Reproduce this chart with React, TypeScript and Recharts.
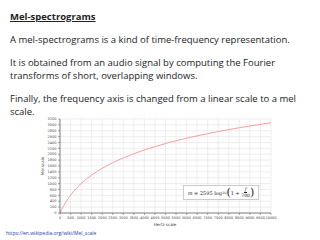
import React from 'react';
import { LineChart, Line, XAxis, YAxis, CartesianGrid } from 'recharts';

const hertz = [0, 100, 250, 500, 1000, 1500, 2000, 2500, 3000, 3500, 4000, 4500, 5000, 5500, 6000, 6500, 7000, 7500, 8000, 8500, 9000, 9500, 10000];
const mel = [0, 150, 344, 607, 1000, 1291, 1521, 1713, 1876, 2019, 2146, 2260, 2363, 2458, 2546, 2627, 2702, 2773, 2840, 2903, 2963, 3019, 3073];
const xTicks = [0, 500, 1000, 1500, 2000, 2500, 3000, 3500, 4000, 4500, 5000, 5500, 6000, 6500, 7000, 7500, 8000, 8500, 9000, 9500, 10000];
const yTicks = [0, 200, 400, 600, 800, 1000, 1200, 1400, 1600, 1800, 2000, 2200, 2400, 2600, 2800, 3000, 3200];

const data = hertz.map((h, i) => ({ hz: h, mel: mel[i] }));

const textFont = '"Open Sans", sans-serif';

export default function App() {
  return (
    <div style={{ position: 'absolute', left: 0, top: 0, width: 320, height: 240, background: '#fff', overflow: 'hidden', fontFamily: textFont, color: '#222' }}>
      <div style={{ position: 'absolute', left: 40, top: 112, width: 250, height: 118 }}>
        <LineChart width={250} height={118} data={data} margin={{ top: 7, left: 0, right: 19, bottom: 7 }}>
          <CartesianGrid stroke="#e2e2e2" strokeWidth={0.6} />
          <XAxis dataKey="hz" type="number" domain={[0, 10000]} ticks={xTicks} height={10}
            tick={{ fontSize: 3.5, fill: '#444', fontFamily: 'DejaVu Sans' }} tickSize={2} tickMargin={1.5}
            axisLine={{ stroke: '#555', strokeWidth: 0.7 }} tickLine={{ stroke: '#555', strokeWidth: 0.5 }} interval={0} />
          <YAxis type="number" domain={[0, 3200]} ticks={yTicks} width={20}
            tick={{ fontSize: 3.5, fill: '#444', fontFamily: 'DejaVu Sans' }} tickSize={2} tickMargin={1.5}
            axisLine={{ stroke: '#555', strokeWidth: 0.7 }} tickLine={{ stroke: '#555', strokeWidth: 0.5 }} interval={0} />
          <XAxis xAxisId="top" dataKey="hz" type="number" orientation="top" domain={[0, 10000]} ticks={xTicks} height={0}
            tick={false} axisLine={{ stroke: '#555', strokeWidth: 0.7 }} tickLine={false} />
          <YAxis yAxisId="right" orientation="right" type="number" domain={[0, 3200]} ticks={yTicks} width={0}
            tick={false} axisLine={{ stroke: '#555', strokeWidth: 0.7 }} tickLine={false} />
          <Line dataKey="mel" stroke="#f4a0a0" strokeWidth={1} dot={false} isAnimationActive={false} type="monotone" />
        </LineChart>
      </div>
      <div style={{ position: 'absolute', left: 10, top: 10, fontSize: 9.5, fontWeight: 700, textDecoration: 'underline' }}>Mel-spectrograms</div>
      <div style={{ position: 'absolute', left: 10, top: 33, fontSize: 9.5, lineHeight: '13px', width: 310 }}>
        A mel-spectrograms is a kind of time-frequency representation.
      </div>
      <div style={{ position: 'absolute', left: 10, top: 56, fontSize: 9.5, lineHeight: '13px', width: 310 }}>
        It is obtained from an audio signal by computing the Fourier<br />transforms of short, overlapping windows.
      </div>
      <div style={{ position: 'absolute', left: 10, top: 92, fontSize: 9.5, lineHeight: '13px', width: 310 }}>
        Finally, the frequency axis is changed from a linear scale to a mel<br />scale.
      </div>
      <div style={{ position: 'absolute', left: 42, top: 166, fontSize: 4, fontFamily: 'DejaVu Sans', transform: 'translate(-50%, -50%) rotate(-90deg)', whiteSpace: 'nowrap', color: '#333' }}>Mel scale</div>
      <div style={{ position: 'absolute', left: 165, top: 224, fontSize: 4, fontFamily: 'DejaVu Sans', transform: 'translate(-50%, -50%)', whiteSpace: 'nowrap', color: '#333' }}>Hertz scale</div>
      <div style={{ position: 'absolute', left: 183, top: 185, width: 76, height: 15, border: '0.5px solid #ccc', background: '#fff', boxSizing: 'border-box', display: 'flex', alignItems: 'center', justifyContent: 'center', fontFamily: '"DejaVu Serif", serif', fontSize: 5, color: '#222', whiteSpace: 'nowrap' }}>
        <span style={{ fontStyle: 'italic' }}>m</span>&nbsp;=&nbsp;2595&nbsp;log<sub style={{ fontSize: 3.5 }}>10</sub>
        <span style={{ fontSize: 11, lineHeight: '11px', fontWeight: 200 }}>(</span>
        1&nbsp;+&nbsp;
        <span style={{ display: 'inline-flex', flexDirection: 'column', alignItems: 'center', fontSize: 4.5, lineHeight: '5px' }}>
          <span style={{ fontStyle: 'italic', borderBottom: '0.5px solid #222', padding: '0 1px' }}>f</span>
          <span>700</span>
        </span>
        <span style={{ fontSize: 11, lineHeight: '11px', fontWeight: 200 }}>)</span>
      </div>
      <div style={{ position: 'absolute', left: 6, top: 230, fontSize: 5, color: '#2a3fa0', whiteSpace: 'nowrap' }}>https://en.wikipedia.org/wiki/Mel_scale</div>
    </div>
  );
}
